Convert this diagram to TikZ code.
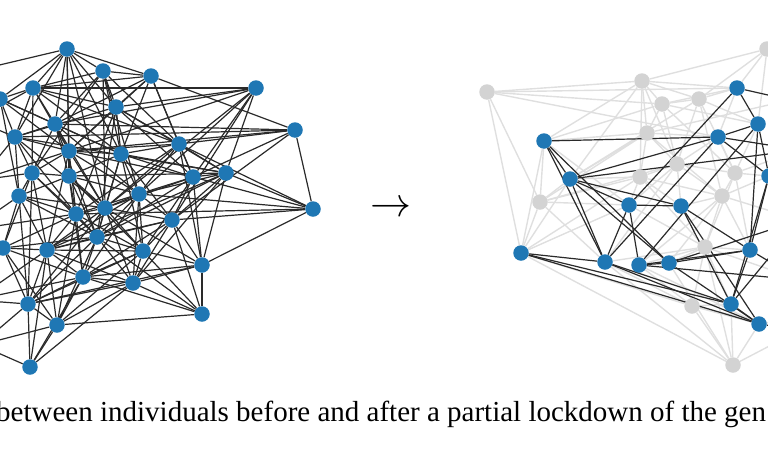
\documentclass[tikz,border=0pt]{standalone}
\usepackage{fontspec}
\setmainfont{Liberation Serif}
\usetikzlibrary{backgrounds}
\definecolor{cblue}{HTML}{1F77B4}
\definecolor{cgrey}{HTML}{D3D3D3}
\definecolor{cedge}{HTML}{2A2A2A}
\definecolor{cfaint}{HTML}{DFDFDF}
\tikzset{
  vtx/.style={circle, fill=#1, draw=none, inner sep=0pt, minimum size=15.5pt},
  vtx/.default=cblue,
  edge/.style={draw=cedge, line width=1.2pt},
  faint/.style={draw=cfaint, line width=1.4pt},
  captext/.style={font=\fontsize{29}{34}\selectfont, inner sep=0pt},
}

\begin{document}
\begin{tikzpicture}[x=1pt, y=-1pt]
  \useasboundingbox (0,0) rectangle (768,474);
  % before: full contact network
  \foreach \n/\x/\y in {1/67/49, 2/103/71, 3/151/76, 4/256/88, 5/33/88, 6/0/99, 7/116/107,
      8/55/124, 9/15/137, 10/295/130, 11/179/144, 12/69/151, 13/121/154, 14/32/173,
      15/69/176, 16/193/177, 17/226/173, 18/19/196, 19/139/194, 20/313/209, 21/105/208,
      22/76/214, 23/172/220, 24/97/237, 25/3/248, 26/47/250, 27/143/251, 28/202/265,
      29/83/277, 30/133/283, 31/28/304, 32/57/325, 33/202/314, 34/30/367}
    \node[vtx] (L\n) at (\x,\y) {};
  \foreach \n/\x/\y in {1/-30/72, 2/-25/120, 3/-20/180, 4/-30/230, 5/-25/300, 6/-20/345}
    \coordinate (Lx\n) at (\x,\y);
  % after: lockdown network
  \foreach \n/\x/\y in {1/487/92, 2/642/81, 3/662/104, 4/699/99, 5/647/133, 6/677/164,
      7/640/177, 8/735/173, 9/722/196, 10/540/202, 11/705/247, 12/692/306, 13/733/365, 14/767/49}
    \node[vtx=cgrey] (G\n) at (\x,\y) {};
  \foreach \n/\x/\y in {1/737/88, 2/758/124, 3/718/137, 4/544/141, 5/570/179, 6/629/205,
      7/681/206, 8/769/176, 9/521/253, 10/605/262, 11/639/265, 12/669/263, 13/750/250,
      14/731/304, 15/759/324}
    \node[vtx] (B\n) at (\x,\y) {};
  \foreach \n/\x/\y in {1/800/150, 2/800/220, 3/800/280, 4/800/330, 5/790/100, 6/800/60}
    \coordinate (Rx\n) at (\x,\y);
  \node[scale=4.1, inner sep=0pt] (arrow) at (391,209) {$\rightarrow$};
  \node[captext, anchor=base west] (caption) at (-4,421)
    {between individuals before and after a partial lockdown of the gen};
  \begin{scope}[on background layer]
    \foreach \a/\b in {1/2, 1/3, 1/5, 1/7, 1/8, 1/12, 1/15, 1/13, 1/21, 1/x1, 1/6, 1/9,
        2/3, 2/7, 2/21, 2/11, 2/5, 2/8, 2/14, 2/13, 2/19,
        3/10, 3/7, 3/8, 3/13, 3/11, 3/16, 3/5, 3/12,
        4/7, 4/16, 4/17, 4/19, 4/23, 4/5, 4/8, 4/12, 4/21,
        5/6, 5/8, 5/9, 5/7, 5/12, 5/13, 5/14, 5/x2, 5/11,
        6/8, 6/9, 6/13, 6/18, 6/12, 6/x1,
        7/11, 7/13, 7/16, 7/17, 7/12, 7/9, 7/22, 7/24,
        8/9, 8/12, 8/13, 8/15, 8/14, 8/19, 8/24, 8/21, 8/10,
        9/12, 9/14, 9/18, 9/22, 9/21, 9/x2, 9/17, 9/x3,
        10/11, 10/20, 10/23, 10/12, 10/16, 10/9,
        11/16, 11/17, 11/13, 11/19, 11/20, 11/21, 11/22, 11/28, 11/12,
        12/13, 12/14, 12/15, 12/19, 12/22, 12/21, 12/16, 12/26, 12/x3,
        13/16, 13/17, 13/19, 13/21, 13/15, 13/23, 13/24, 13/27,
        14/15, 14/18, 14/22, 14/26, 14/25, 14/x3, 14/24, 14/31,
        15/19, 15/21, 15/22, 15/24, 15/18, 15/27, 15/29, 15/17,
        16/17, 16/19, 16/23, 16/20, 16/28, 16/21, 16/24, 16/27,
        17/19, 17/20, 17/23, 17/24, 17/28, 17/30, 17/26,
        18/22, 18/25, 18/26, 18/x4, 18/24, 18/31, 18/21,
        19/21, 19/23, 19/24, 19/27, 19/22, 19/30, 19/26, 19/29,
        20/23, 20/28, 20/19, 20/22,
        21/23, 21/22, 21/24, 21/27, 21/26, 21/30, 21/28, 21/31,
        22/24, 22/26, 22/27, 22/25, 22/29, 22/32, 22/x4,
        23/24, 23/27, 23/28, 23/30, 23/26, 23/29, 23/33,
        24/26, 24/27, 24/29, 24/30, 24/31, 24/32, 24/33, 24/25,
        25/26, 25/31, 25/x4, 25/29, 25/x5, 25/32,
        26/27, 26/29, 26/30, 26/31, 26/32, 26/x5, 26/34,
        27/28, 27/30, 27/33, 27/29, 27/32, 27/31,
        28/30, 28/33, 28/29, 28/31,
        29/30, 29/31, 29/32, 29/33, 29/x5, 29/34,
        30/32, 30/33, 30/31, 30/34,
        31/32, 31/34, 31/x5, 31/x6, 32/34, 32/33, 32/x6, 34/x6}
      \draw[edge] (L\a) -- (L\b);
    % removed contacts
    \foreach \a/\b in {G1/G2, G1/B1, G1/G3, G1/B9, G1/G10, G1/B3,
        G2/G14, G2/B1, G2/G3, G2/G5, G2/B5, G2/G7, G2/G6, G2/B4, G2/G4,
        G3/G4, G3/B1, G3/G5, G3/G8, G3/G6, G3/B2, G3/B4,
        G4/G14, G4/B1, G4/B2, G4/G6, G4/G8, G4/G9, G4/B5,
        G5/G6, G5/G7, G5/B3, G5/B4, G5/B5, G5/G9, G5/Rx5,
        G6/G7, G6/G8, G6/G9, G6/B7, G6/B3, G6/B6, G6/B10,
        G7/B6, G7/G9, G7/B5, G7/G11, G7/B7, G7/B9,
        G8/G9, G8/B2, G8/B8, G8/B13, G8/G11, G8/B3, G8/Rx1,
        G9/G11, G9/B7, G9/B12, G9/B13, G9/B8, G9/Rx2, G9/B11,
        G10/B4, G10/B5, G10/B9, G10/G7, G10/B6, G10/B10, G10/G5, G10/G6,
        G11/B11, G11/B12, G11/B13, G11/G12, G11/B14, G11/B10, G11/B6, G11/G13, G11/Rx3,
        G12/G13, G12/B10, G12/B11, G12/B14, G12/B15, G12/B9, G12/Rx4,
        G13/B15, G13/B14, G13/B9, G13/B10, G13/B12, G13/Rx4,
        G14/B1, G14/Rx6, G14/B2, B4/B9, B9/B5, B4/B6, B1/B3, B6/B9, B11/B15}
      \draw[faint] (\a) -- (\b);
    % kept contacts
    \foreach \a/\b in {B4/B3, B4/B5, B4/B10, B4/B12, B5/B3, B5/B6, B5/B10, B5/B12, B5/B7,
        B5/Rx1, B9/B10, B9/B14, B9/B15, B6/B1, B6/B10, B6/B11, B6/B7, B3/B10, B2/B11,
        B7/B13, B7/B15, B7/B14, B1/B2, B3/B2, B1/Rx5, B2/B13, B3/Rx1, B11/B12, B11/B13,
        B11/Rx3, B12/B13, B12/Rx2, B10/B14, B10/B15, B13/B14, B14/B15, B13/B8, B8/B14,
        B3/B8, B12/B15, B2/B8, B13/Rx3, B15/Rx4, B14/Rx2}
      \draw[edge] (\a) -- (\b);
  \end{scope}
\end{tikzpicture}
\end{document}
